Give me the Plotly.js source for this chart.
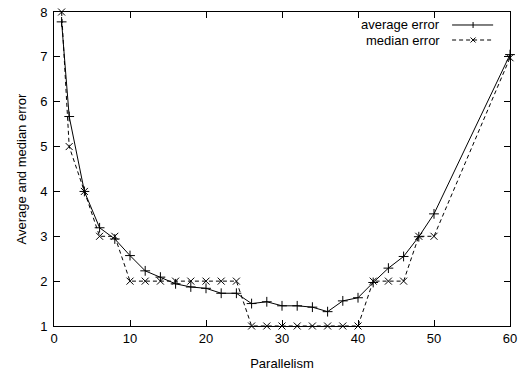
<!DOCTYPE html>
<html>
<head>
<meta charset="utf-8">
<script src="https://cdn.plot.ly/plotly-3.0.1.min.js"></script>
<style>
html,body{margin:0;padding:0;background:#fff;}
#chart{width:526px;height:372px;}
</style>
</head>
<body>
<div id="chart"></div>
<script>
var parallelism = [1, 2, 4, 6, 8, 10, 12, 14, 16, 18, 20, 22, 24, 26, 28, 30, 32, 34, 36, 38, 40, 42, 44, 46, 48, 50, 60];
var averageError = [7.78, 5.67, 4.0, 3.19, 2.94, 2.57, 2.23, 2.09, 1.94, 1.87, 1.84, 1.73, 1.73, 1.5, 1.54, 1.45, 1.45, 1.42, 1.32, 1.56, 1.63, 1.97, 2.29, 2.55, 2.99, 3.5, 7.05];
var medianError = [8, 5, 4, 3, 3, 2, 2, 2, 2, 2, 2, 2, 2, 1, 1, 1, 1, 1, 1, 1, 1, 2, 2, 2, 3, 3, 6.98];
var seriesNames = ["average error", "median error"];
var xTicks = [0, 10, 20, 30, 40, 50, 60];
var yTicks = [1, 2, 3, 4, 5, 6, 7, 8];

var font = "Liberation Sans, Arial, sans-serif";

var traces = [
  {
    x: parallelism, y: averageError, name: seriesNames[0], type: "scatter", mode: "lines+markers",
    line: {color: "#000", width: 1},
    marker: {symbol: "cross-thin-open", size: 7, color: "#000", line: {color: "#000", width: 1}},
    cliponaxis: false
  },
  {
    x: parallelism, y: medianError, name: seriesNames[1], type: "scatter", mode: "lines+markers",
    line: {color: "#000", width: 1, dash: "4px,3px"},
    marker: {symbol: "x-thin-open", size: 7, color: "#000", line: {color: "#000", width: 1}},
    cliponaxis: false
  }
];

// legend drawn gnuplot-style (text right-aligned, sample to the right)
var legY = [0.9586, 0.9108];
var txtX = 0.851, lnX0 = 0.873, lnX1 = 0.963, mkX = 0.919;
var shapes = [
  {type: "line", xref: "paper", yref: "paper", x0: lnX0, x1: lnX1, y0: legY[0], y1: legY[0], line: {color: "#000", width: 1}},
  {type: "line", xref: "paper", yref: "paper", x0: lnX0, x1: lnX1, y0: legY[1], y1: legY[1], line: {color: "#000", width: 1, dash: "4px,3px"}},
  {type: "line", xref: "paper", yref: "paper", ysizemode: "pixel", yanchor: legY[0], x0: mkX, x1: mkX, y0: -3, y1: 3, line: {color: "#000", width: 1}},
  {type: "line", xref: "paper", yref: "paper", xsizemode: "pixel", ysizemode: "pixel", xanchor: mkX, yanchor: legY[1], x0: -2.5, x1: 2.5, y0: -2.5, y1: 2.5, line: {color: "#000", width: 1}},
  {type: "line", xref: "paper", yref: "paper", xsizemode: "pixel", ysizemode: "pixel", xanchor: mkX, yanchor: legY[1], x0: -2.5, x1: 2.5, y0: 2.5, y1: -2.5, line: {color: "#000", width: 1}}
];
var annotations = seriesNames.map(function (n, i) {
  return {xref: "paper", yref: "paper", x: txtX, y: legY[i], text: n, showarrow: false,
    xanchor: "right", yanchor: "middle", font: {family: font, size: 13, color: "#000"}};
});

var axisCommon = {
  showgrid: false, zeroline: false, showline: true, linecolor: "#000", linewidth: 1,
  mirror: "ticks", ticks: "inside", ticklen: 6, tickcolor: "#000", tickwidth: 1,
  tickfont: {family: font, size: 13, color: "#000"}
};

var layout = {
  width: 526, height: 372,
  margin: {l: 54, r: 16, t: 12, b: 46},
  paper_bgcolor: "#fff", plot_bgcolor: "#fff",
  showlegend: false,
  xaxis: Object.assign({}, axisCommon, {
    range: [0, 60], tickvals: xTicks, ticktext: xTicks.map(String),
    title: {text: "Parallelism", font: {family: font, size: 13, color: "#000"}, standoff: 14}
  }),
  yaxis: Object.assign({}, axisCommon, {
    range: [1, 8], tickvals: yTicks, ticktext: yTicks.map(String), ticklabelstandoff: 3,
    title: {text: "Average and median error", font: {family: font, size: 13, color: "#000"}, standoff: 10}
  }),
  shapes: shapes,
  annotations: annotations
};

Plotly.newPlot("chart", traces, layout, {displayModeBar: false, staticPlot: true});
</script>
</body>
</html>
